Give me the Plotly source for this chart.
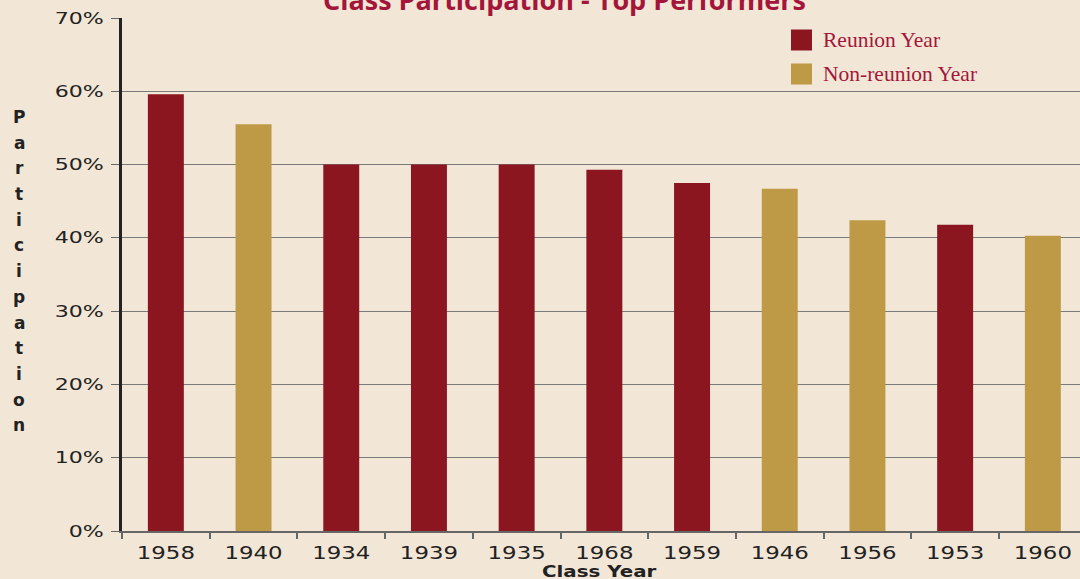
import plotly.graph_objects as go

categories = ["1958", "1940", "1934", "1939", "1935", "1968", "1959", "1946", "1956", "1953", "1960"]
values = [0.596, 0.555, 0.500, 0.500, 0.500, 0.493, 0.475, 0.467, 0.424, 0.418, 0.403]
kinds = ["Reunion", "Non-reunion", "Reunion", "Reunion", "Reunion", "Reunion", "Reunion",
         "Non-reunion", "Non-reunion", "Reunion", "Non-reunion"]
legend_labels = ["Reunion Year", "Non-reunion Year"]
y_ticks = [0, 0.1, 0.2, 0.3, 0.4, 0.5, 0.6, 0.7]
title_text = "Class Participation - Top Performers"
y_title = "Participation"
x_title = "Class Year"

RED = "#8C1620"
GOLD = "#BE9946"
BG = "#F2E6D6"
TEXT_RED = "#A3163A"

colors = [RED if k == "Reunion" else GOLD for k in kinds]

fig = go.Figure()
fig.add_trace(go.Bar(x=categories, y=values, marker=dict(color=colors, line=dict(width=0)),
                     width=0.41, showlegend=False, hoverinfo="skip"))

W, H = 1080, 579
L, R, T, B = 122, 0, 18, 48
plot_w = W - L - R
plot_h = H - T - B
cat_px = 87.7

fig.update_layout(
    width=W, height=H,
    margin=dict(l=L, r=R, t=T, b=B),
    paper_bgcolor=BG, plot_bgcolor=BG,
    showlegend=False,
    font=dict(family="DejaVu Sans", color="#222222"),
)
fig.update_xaxes(
    type="category",
    range=[-0.5, -0.5 + plot_w / cat_px],
    tickson="boundaries",
    ticks="outside", ticklen=6, tickwidth=2, tickcolor="#666666",
    ticklabelstandoff=4,
    showline=True, linecolor="#666666", linewidth=2,
    showgrid=False, automargin=False,
    tickfont=dict(family="DejaVu Sans", size=18, color="#222222"),
)
fig.update_yaxes(
    range=[0, 0.7],
    tickvals=y_ticks, tickformat=".0%",
    ticks="outside", ticklen=8, tickwidth=1, tickcolor="#666666",
    ticklabelstandoff=4,
    showline=True, linecolor="#222222", linewidth=3,
    showgrid=True, gridcolor="#7a7a7a", gridwidth=1,
    zeroline=False, automargin=False,
    tickfont=dict(family="DejaVu Sans", size=16, color="#222222"),
)

# Title (cut off at top, as in reference)
fig.add_annotation(text="<b>" + title_text + "</b>", xref="paper", yref="paper",
                   x=(564 - L) / plot_w, y=1, xanchor="center", yanchor="middle",
                   yshift=T + 1, showarrow=False,
                   font=dict(family="Open Sans", size=27, color=TEXT_RED))

# X axis title
fig.add_annotation(text="<b>" + x_title + "</b>", xref="paper", yref="paper",
                   x=(599 - L) / plot_w, y=0, xanchor="center", yanchor="middle",
                   yshift=-(571 - (H - B)), showarrow=False,
                   font=dict(family="DejaVu Sans", size=16, color="#222222"))

# Y axis title, stacked letters
y0_px, step = 117, 25.7
for i, ch in enumerate(y_title):
    ypx = y0_px + i * step
    fig.add_annotation(text="<b>" + ch + "</b>", xref="paper", yref="paper",
                       x=(19 - L) / plot_w, y=1 - (ypx - T) / plot_h,
                       xanchor="center", yanchor="middle", showarrow=False,
                       font=dict(family="DejaVu Sans", size=17, color="#222222"))

# Legend (custom)
leg_colors = [RED, GOLD]
leg_y = [40, 74]
for lab, c, ypx in zip(legend_labels, leg_colors, leg_y):
    x0 = (791 - L) / plot_w
    x1 = (812 - L) / plot_w
    yc = 1 - (ypx - T) / plot_h
    hh = 10.5 / plot_h
    fig.add_shape(type="rect", xref="paper", yref="paper", x0=x0, x1=x1,
                  y0=yc - hh, y1=yc + hh, fillcolor=c, line=dict(width=0))
    fig.add_annotation(text=lab, xref="paper", yref="paper",
                       x=(821 - L) / plot_w, y=yc, xanchor="left", yanchor="middle",
                       showarrow=False,
                       font=dict(family="Liberation Serif", size=21.5, color=TEXT_RED))

# Horizontal widening of the sans-serif labels (the reference glyphs are stretched)
post = """
document.body.style.margin = '0';
var gd = document.querySelector('.js-plotly-plot');
function widen(t, s, anchor) {
  var bb = t.getBBox();
  var ox = anchor === 'end' ? bb.x + bb.width : bb.x + bb.width / 2;
  var tr = t.getAttribute('transform') || '';
  t.setAttribute('transform', tr + ' translate(' + ox + ',0) scale(' + s + ',1) translate(' + (-ox) + ',0)');
}
gd.querySelectorAll('.xtick text').forEach(function(t){ widen(t, 1.27, 'middle'); });
gd.querySelectorAll('.ytick text').forEach(function(t){ widen(t, 1.38, 'end'); });
gd.querySelectorAll('.annotation-text').forEach(function(t){
  if (t.textContent === 'Class Year') { widen(t, 1.24, 'middle'); }
});
"""

fig.write_html("out.html", post_script=post, config={"displayModeBar": False})
